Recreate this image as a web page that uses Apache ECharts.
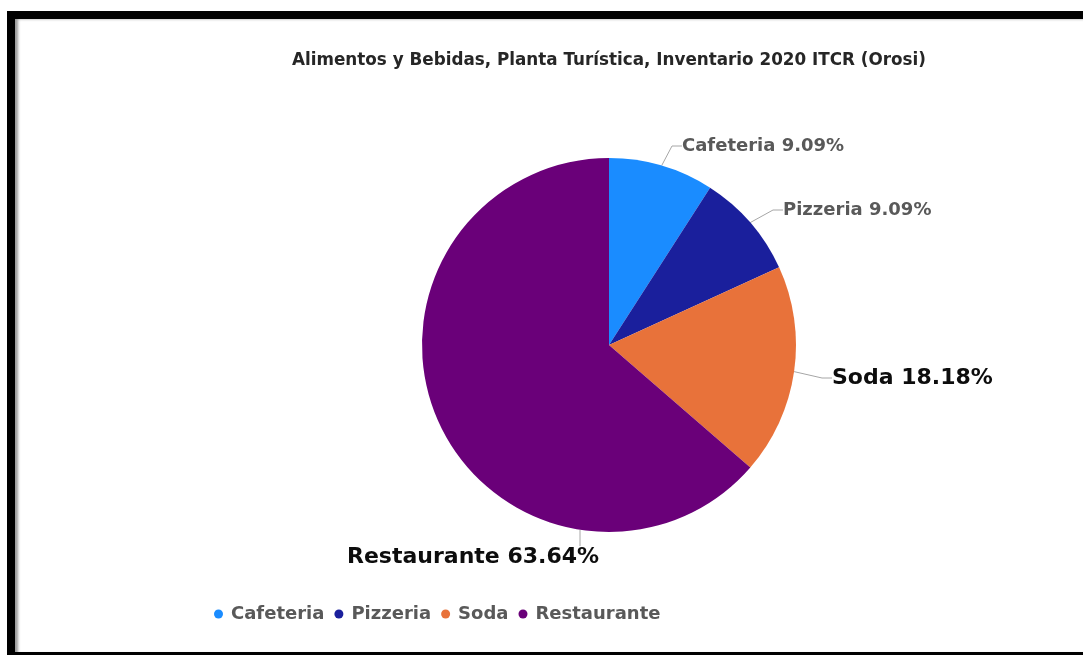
<!DOCTYPE html>
<html>
<head>
<meta charset="utf-8">
<script src="https://cdn.jsdelivr.net/npm/echarts@6/dist/echarts.min.js"></script>
<style>
html,body{margin:0;padding:0;background:#fff;width:1083px;height:655px;overflow:hidden;}
#chart{position:absolute;left:0;top:0;width:1083px;height:655px;}
#frame{position:absolute;left:7px;top:11px;width:1076px;height:644px;box-sizing:border-box;
  border-top:8px solid #000;border-left:8px solid #000;border-bottom:3px solid #000;
  box-shadow: inset 4px 1px 3px -1px #9a9a9a;pointer-events:none;}
</style>
</head>
<body>
<div id="chart"></div>
<div id="frame"></div>
<script>
const titleText = 'Alimentos y Bebidas, Planta Turística, Inventario 2020 ITCR (Orosi)';
const categories = ['Cafeteria', 'Pizzeria', 'Soda', 'Restaurante'];
const values = [1, 1, 2, 7];
const colors = ['#1a8cff', '#1a1f9c', '#e8723a', '#6a0079'];

// label styling / placement (layout only, not data)
const labelFont = [18, 18, 22, 22];
const labelColor = ['#595959', '#595959', '#0d0d0d', '#0d0d0d'];
const labelPos = [[682, 146], [783, 210], [832, 378], [347, 557]];
const guidePoints = [null, null, null, [[580, 530], [580, 546]]];

const chart = echarts.init(document.getElementById('chart'), null, {renderer: 'canvas'});
const FONT = 'DejaVu Sans';

const data = categories.map((c, i) => ({
  name: c,
  value: values[i],
  itemStyle: {color: colors[i]},
  label: {fontSize: labelFont[i], color: labelColor[i]}
}));

chart.setOption({
  animation: false,
  backgroundColor: 'transparent',
  title: {
    text: titleText,
    left: 287,
    top: 47,
    textStyle: {fontFamily: FONT, fontWeight: 'bold', fontSize: 16.8, color: '#262626'}
  },
  legend: {
    data: categories,
    left: 209,
    top: 600,
    icon: 'circle',
    itemWidth: 9,
    itemHeight: 9,
    itemGap: 10,
    textStyle: {fontFamily: FONT, fontWeight: 'bold', fontSize: 18, color: '#595959', padding: [0, 0, 0, 3]}
  },
  series: [{
    type: 'pie',
    center: [609, 345],
    radius: 187,
    startAngle: 90,
    clockwise: true,
    avoidLabelOverlap: false,
    data: data,
    label: {
      show: true,
      position: 'outside',
      formatter: '{b} {d}%',
      fontFamily: FONT,
      fontWeight: 'bold'
    },
    labelLine: {
      show: true,
      length: 12,
      length2: 10,
      lineStyle: {color: '#a6a6a6', width: 1}
    },
    labelLayout: function (p) {
      const pos = labelPos[p.dataIndex];
      const out = {x: pos[0], y: pos[1], align: 'left', verticalAlign: 'middle'};
      if (guidePoints[p.dataIndex]) out.labelLinePoints = guidePoints[p.dataIndex];
      return out;
    }
  }]
});
</script>
</body>
</html>
